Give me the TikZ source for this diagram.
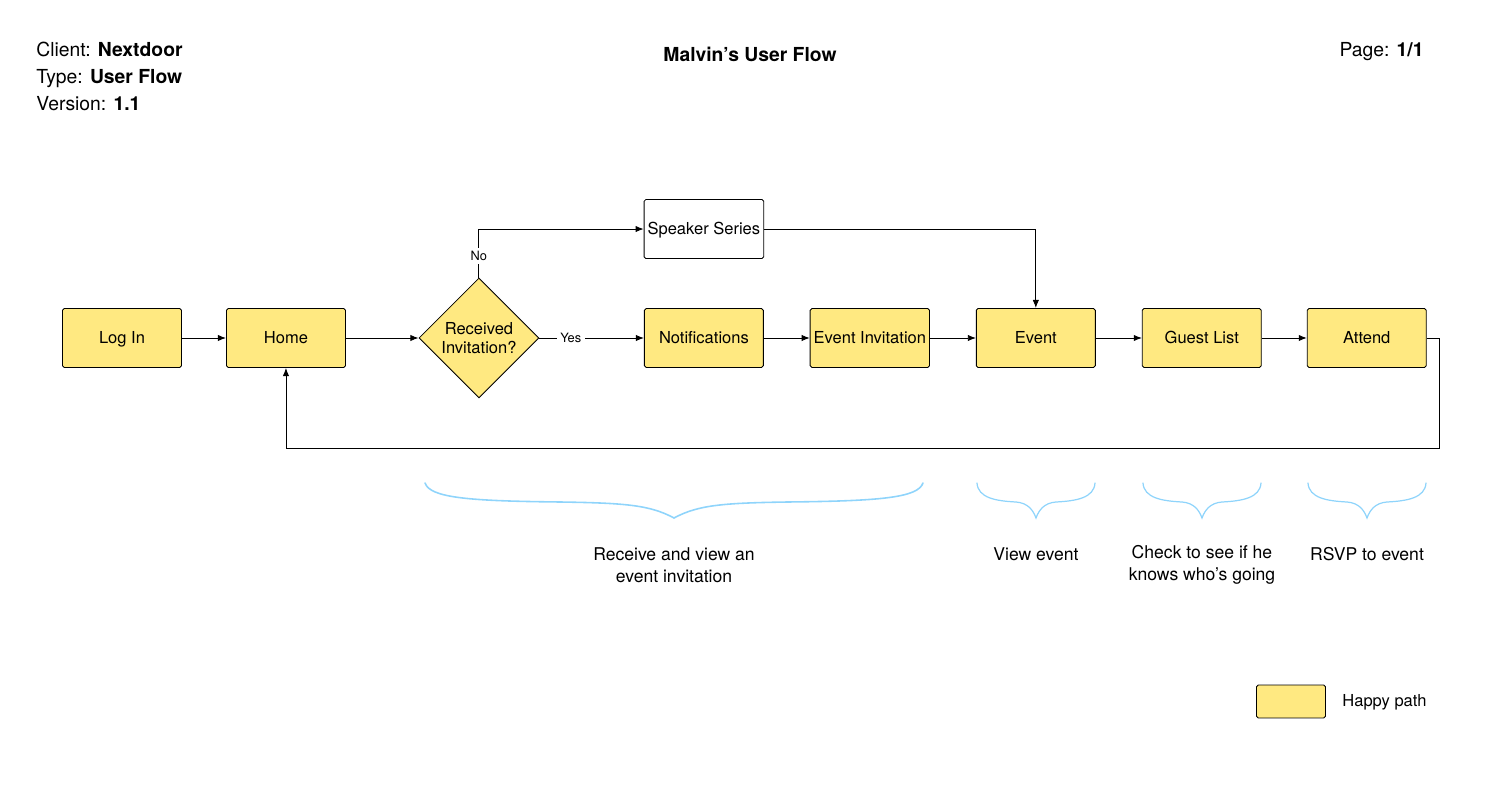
\documentclass[tikz,border=0pt]{standalone}
\usepackage{fontspec}
\setmainfont{TeX Gyre Heros}
\usetikzlibrary{shapes,arrows,arrows.meta,positioning}
\definecolor{happy}{HTML}{FFE981}
\definecolor{bracecol}{HTML}{8FD4FB}

\begin{document}
\begin{tikzpicture}[x=0.02cm, y=-0.02cm, node distance=3.32cm, >={Latex[length=4.6pt,width=3.6pt]}, line width=0.5pt,
  screen/.style={draw, rectangle, rounded corners=1pt, fill=happy, minimum width=2.38cm, minimum height=1.18cm, inner xsep=2pt, text height=1.5ex, text depth=0.25ex, font=\fontsize{9.4}{11}\selectfont},
  choice/.style={draw, diamond, aspect=1, fill=happy, minimum size=2.4cm, inner sep=0pt, align=center, font=\fontsize{9.4}{11}\selectfont},
  answer/.style={fill=white, anchor=center, inner sep=2pt, font=\fontsize{7.3}{9}\selectfont},
  header/.style={anchor=base west, inner sep=0pt, font=\fontsize{11}{13}\selectfont},
  note/.style={align=center, font=\fontsize{10}{12.5}\selectfont},
  brace/.style={draw=bracecol, line width=0.9pt, line cap=round}]

  \useasboundingbox (0,0) rectangle (1512,790);

  % Kopfzeile
  \node [header] (client) at (36,57) {Client: \textbf{Nextdoor}};
  \node [header] (type) at (36,84) {Type: \textbf{User Flow}};
  \node [header] (version) at (36,111) {Version: \textbf{1.1}};
  \node [anchor=base, inner sep=0pt, font=\bfseries\fontsize{11}{13}\selectfont] (title) at (750,62) {Malvin’s User Flow};
  \node [anchor=base east, inner sep=0pt, font=\fontsize{11}{13}\selectfont] (page) at (1424,57) {Page: \textbf{1/1}};

  % Hauptpfad
  \node [screen] (login) at (122,338) {Log In};
  \node [screen, right of=login, node distance=3.28cm] (home) {Home};
  \node [choice, right of=home, node distance=3.86cm] (received) {Received\\Invitation?};
  \node [screen, right of=received, node distance=4.5cm] (notifications) {Notifications};
  \node [screen, right of=notifications] (invitation) {Event Invitation};
  \node [screen, right of=invitation, node distance=3.32cm] (event) {Event};
  \node [screen, right of=event, node distance=3.32cm] (guestlist) {Guest List};
  \node [screen, right of=guestlist, node distance=3.3cm] (attend) {Attend};

  % Nebenpfad
  \node [screen, fill=white, above of=notifications, node distance=2.18cm] (speaker) {Speaker Series};

  % Verbindungen
  \draw [->] (login) -- (home);
  \draw [->] (home) -- (received);
  \draw [->] (received) -- node [answer, pos=0.3] {Yes} (notifications);
  \draw [->] (received.north) |- node [answer, pos=0.22] {No} (speaker.west);
  \draw [->] (notifications) -- (invitation);
  \draw [->] (invitation) -- (event);
  \draw [->] (speaker.east) -| (event.north);
  \draw [->] (event) -- (guestlist);
  \draw [->] (guestlist) -- (attend);
  \coordinate (back) at (1439,448);
  \draw [->] (attend.east) -| (back) -| (home.south);

  % Klammern
  \draw [brace] (425,483) .. controls (430,498) and (470,501) .. (560,502)
    .. controls (625,503) and (650,505) .. (674,518)
    .. controls (698,505) and (723,503) .. (788,502)
    .. controls (878,501) and (918,498) .. (923,483);
  \foreach \cx in {1036,1202,1367}
    \draw [brace, line width=0.7pt] (\cx-59,483) .. controls (\cx-58,498) and (\cx-40,501) .. (\cx-20,502)
      .. controls (\cx-8,503) and (\cx-3,510) .. (\cx,518)
      .. controls (\cx+3,510) and (\cx+8,503) .. (\cx+20,502)
      .. controls (\cx+40,501) and (\cx+58,498) .. (\cx+59,483);

  % Beschreibungen
  \node [note] (receivetext) at (674,565) {Receive and view an\\event invitation};
  \node [note] (viewtext) at (1036,554) {View event};
  \node [note] (checktext) at (1202,565) {Check to see if he\\knows who’s going};
  \node [note] (rsvptext) at (1367,554) {RSVP to event};

  % Legende
  \node [screen, minimum width=1.38cm, minimum height=0.66cm] (legend) at (1291,701.5) {};
  \node [anchor=west, font=\fontsize{9.4}{11}\selectfont, inner sep=0pt] (legendtext) at (1342,702) {Happy path};

\end{tikzpicture}
\end{document}
